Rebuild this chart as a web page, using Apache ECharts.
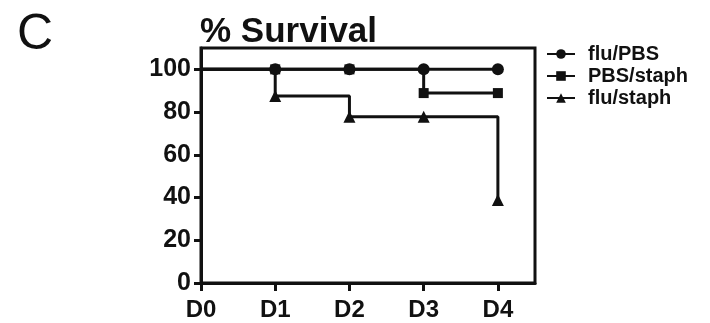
<!DOCTYPE html>
<html>
<head>
<meta charset="utf-8">
<script src="https://cdn.jsdelivr.net/npm/echarts@6/dist/echarts.min.js"></script>
<style>
html,body{margin:0;padding:0;background:#fff;}
#c{width:710px;height:323px;}
</style>
</head>
<body>
<div id="c"></div>
<script>
var categories = ['D0', 'D1', 'D2', 'D3', 'D4'];
var yTicks = [0, 20, 40, 60, 80, 100];
var seriesNames = ['flu/PBS', 'PBS/staph', 'flu/staph'];
var fluPBS = [100, 100, 100, 100, 100];
var pbsStaph = [100, 100, 100, 88.9, 88.9];
var fluStaph = [100, 87.5, 77.8, 77.8, 38.9];
var symbols = ['circle', 'rect', 'triangle'];
var symbolSizes = [12, 10, 12];

var FONT = 'Liberation Sans, Arial, sans-serif';
var INK = '#111';

function toData(vals) {
  return vals.map(function (v, i) {
    var d = { value: [i, v] };
    if (i === 0) d.symbol = 'none';
    return d;
  });
}

var allVals = [fluPBS, pbsStaph, fluStaph];
var series = [];
for (var k = allVals.length - 1; k >= 0; k--) {
  series.push({
    name: seriesNames[k],
    type: 'line',
    step: 'end',
    data: toData(allVals[k]),
    symbol: symbols[k],
    symbolSize: symbolSizes[k],
    showAllSymbol: true,
    lineStyle: { color: INK, width: 3 },
    itemStyle: { color: INK, borderWidth: 0 },
    emphasis: { disabled: true },
    animation: false
  });
}

var chart = echarts.init(document.getElementById('c'));
chart.setOption({
  animation: false,
  backgroundColor: '#fff',
  title: {
    text: '% Survival',
    left: 195,
    top: 10,
    textStyle: { fontFamily: FONT, fontSize: 35, fontWeight: 'bold', color: INK }
  },
  graphic: [{
    type: 'text',
    left: 17,
    top: 10,
    style: { text: 'C', font: 'normal 50px ' + FONT, fill: INK }
  }],
  legend: {
    orient: 'vertical',
    left: 541,
    top: 38,
    itemWidth: 28,
    itemHeight: 12,
    itemGap: 0,
    data: seriesNames,
    textStyle: { fontFamily: FONT, fontSize: 20, fontWeight: 'bold', color: INK, padding: [0, 0, 0, 8], lineHeight: 22 }
  },
  grid: {
    left: 201, right: 175, top: 48, bottom: 40,
    show: true, borderColor: INK, borderWidth: 3, backgroundColor: 'transparent'
  },
  xAxis: {
    type: 'value',
    min: 0, max: 4.5,
    splitLine: { show: false },
    axisLine: { show: true, lineStyle: { color: INK, width: 3 } },
    axisTick: { show: true, inside: false, length: 8, customValues: [0, 1, 2, 3, 4], lineStyle: { color: INK, width: 3 } },
    axisLabel: {
      customValues: [0, 1, 2, 3, 4],
      margin: 15,
      formatter: function (v) { return categories[Math.round(v)]; },
      fontFamily: FONT, fontSize: 24, fontWeight: 'bold', color: INK
    }
  },
  yAxis: {
    type: 'value',
    min: 0, max: 110,
    splitLine: { show: false },
    axisLine: { show: true, lineStyle: { color: INK, width: 3 } },
    axisTick: { show: true, inside: false, length: 7, customValues: yTicks, lineStyle: { color: INK, width: 3 } },
    axisLabel: {
      customValues: yTicks,
      margin: 10,
      fontFamily: FONT, fontSize: 25, fontWeight: 'bold', color: INK
    }
  },
  series: series
});
</script>
</body>
</html>
